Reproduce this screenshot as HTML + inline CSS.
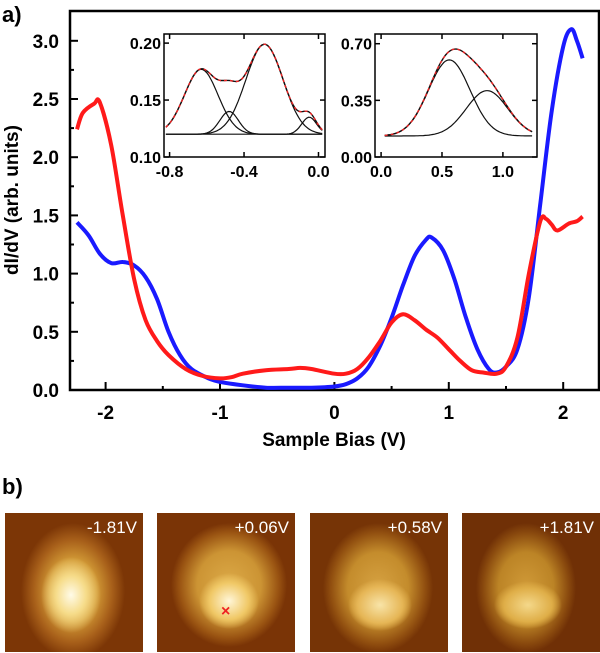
<!DOCTYPE html>
<html><head><meta charset="utf-8"><style>
body{margin:0;background:#fff;width:600px;height:653px;overflow:hidden;font-family:"Liberation Sans",sans-serif}
svg text{font-family:"Liberation Sans",sans-serif}
.img{position:absolute;top:513px;width:138px;height:139px;overflow:hidden}
.lbl{position:absolute;right:6px;top:5px;color:#fff;font-size:17px;font-family:"Liberation Sans",sans-serif}
</style></head><body>
<svg id="chart" width="600" height="470" style="position:absolute;left:0;top:0">
<text x="2" y="22" font-size="22" font-weight="bold">a)</text>
<g id="main"></g>
</svg>
<div style="position:absolute;left:2px;top:474px;font-size:22px;font-weight:bold">b)</div>
<div class="img" style="left:5px;background:radial-gradient(ellipse 30px 38px at 66px 82px,#fffbe8 0%,#f6dc8a 50%,transparent 100%),radial-gradient(ellipse 52px 68px at 68px 78px,#e9bb58 0%,#d29a36 45%,#a8601a 75%,#7c3606 100%)"><span class="lbl">-1.81V</span></div>
<div class="img" style="left:157px;background:radial-gradient(ellipse 30px 28px at 72px 88px,#fff6d8 0%,#f0c866 65%,transparent 100%),radial-gradient(ellipse 58px 62px at 72px 72px,#dcaa48 0%,#cc9434 55%,#9a5412 85%,#7a3406 100%)"><span class="lbl">+0.06V</span><span style="position:absolute;left:64px;top:90px;color:#e22;font-weight:bold;font-size:16px">×</span></div>
<div class="img" style="left:310px;background:radial-gradient(ellipse 32px 26px at 70px 92px,#f8e4a8 0%,#e6b656 70%,transparent 100%),radial-gradient(ellipse 55px 65px at 68px 75px,#d6a242 0%,#c48c2c 55%,#925010 85%,#763406 100%)"><span class="lbl">+0.58V</span></div>
<div class="img" style="left:462px;background:radial-gradient(ellipse 34px 24px at 66px 92px,#f4d88a 0%,#dfae48 70%,transparent 100%),radial-gradient(ellipse 50px 65px at 64px 75px,#d09a38 0%,#bc8426 55%,#8a4a0e 85%,#703006 100%)"><span class="lbl">+1.81V</span></div>
<script>
const blueX=[-2.25,-2.15,-2.05,-1.95,-1.85,-1.75,-1.65,-1.55,-1.45,-1.35,-1.25,-1.1,-1.0,-0.8,-0.6,-0.4,-0.2,0,0.1,0.2,0.3,0.4,0.5,0.6,0.7,0.8,0.85,0.95,1.05,1.15,1.25,1.35,1.42,1.5,1.6,1.7,1.8,1.9,2.0,2.07,2.12,2.17];
const blueY=[1.44,1.33,1.17,1.09,1.10,1.07,0.97,0.78,0.50,0.30,0.18,0.10,0.07,0.04,0.02,0.02,0.02,0.03,0.05,0.10,0.20,0.38,0.62,0.90,1.15,1.29,1.31,1.20,0.95,0.62,0.35,0.18,0.15,0.20,0.35,0.80,1.60,2.40,2.95,3.10,3.00,2.85];
const redX=[-2.25,-2.2,-2.1,-2.05,-1.95,-1.85,-1.75,-1.65,-1.55,-1.45,-1.3,-1.15,-1.0,-0.9,-0.8,-0.6,-0.4,-0.3,-0.2,0,0.1,0.2,0.3,0.4,0.5,0.6,0.7,0.8,0.9,1.0,1.1,1.2,1.3,1.42,1.5,1.6,1.7,1.8,1.85,1.9,1.95,2.05,2.12,2.17];
const redY=[2.24,2.38,2.46,2.47,2.10,1.50,0.95,0.60,0.42,0.30,0.18,0.12,0.10,0.11,0.14,0.17,0.18,0.19,0.18,0.14,0.14,0.18,0.28,0.42,0.58,0.65,0.60,0.52,0.45,0.35,0.25,0.17,0.15,0.14,0.20,0.45,1.00,1.45,1.47,1.42,1.37,1.43,1.45,1.49];
const xTicks=[-2,-1,0,1,2];
const yTicks=[0,0.5,1.0,1.5,2.0,2.5,3.0];
const in1Base=0.12, in1Centers=[-0.63,-0.48,-0.29,-0.05], in1Amps=[0.057,0.02,0.079,0.015], in1Sig=[0.09,0.05,0.1,0.04];
const in2Base=0.13, in2Centers=[0.56,0.87], in2Amps=[0.47,0.28], in2Sig=[0.17,0.17];
const in1XT=[-0.8,-0.4,0.0], in1YT=[0.10,0.15,0.20];
const in2XT=[0.0,0.5,1.0], in2YT=[0.00,0.35,0.70];

const NS="http://www.w3.org/2000/svg";
const g=document.getElementById('main');
function el(t,a,p){const e=document.createElementNS(NS,t);for(const k in a)e.setAttribute(k,a[k]);(p||g).appendChild(e);return e;}
function txt(x,y,s,size,anchor,p){const e=el('text',{x:x,y:y,'font-size':size,'font-weight':'bold','text-anchor':anchor},p);e.textContent=s;return e;}
const L=70,R=599,T=11,B=390;
const sx=v=>334.4+v*114.4, sy=v=>390-v*116.4;
el('rect',{x:L,y:T,width:R-L,height:B-T,fill:'none',stroke:'#000','stroke-width':2.5});
xTicks.forEach(v=>{el('line',{x1:sx(v),x2:sx(v),y1:B,y2:B-8,stroke:'#000','stroke-width':2});
 const t=txt(sx(v),419,String(v),19,'middle');});
[-1.5,-0.5,0.5,1.5].forEach(v=>el('line',{x1:sx(v),x2:sx(v),y1:B,y2:B-4,stroke:'#000','stroke-width':2}));
yTicks.forEach(v=>{el('line',{x1:L,x2:L+8,y1:sy(v),y2:sy(v),stroke:'#000','stroke-width':2});
 const t=txt(L-11,sy(v)+7,v.toFixed(1),19,'end');});
[0.25,0.75,1.25,1.75,2.25,2.75].forEach(v=>el('line',{x1:L,x2:L+4,y1:sy(v),y2:sy(v),stroke:'#000','stroke-width':2}));
let xt=txt(334,446,'Sample Bias (V)',19,'middle');
let yt=txt(0,0,'dI/dV (arb. units)',19,'middle');yt.setAttribute('transform','translate(18,200) rotate(-90)');
function path(xs,ys,fx,fy){return xs.map((x,i)=>(i?'L':'M')+fx(x).toFixed(1)+','+fy(ys[i]).toFixed(1)).join('');}
function smooth(xs,ys,fx,fy){const P=xs.map((x,i)=>[fx(x),fy(ys[i])]);let d='M'+P[0][0].toFixed(1)+','+P[0][1].toFixed(1);
 for(let i=0;i<P.length-1;i++){const p0=P[i-1]||P[i],p1=P[i],p2=P[i+1],p3=P[i+2]||P[i+1];
  const c1=[p1[0]+(p2[0]-p0[0])/6,p1[1]+(p2[1]-p0[1])/6],c2=[p2[0]-(p3[0]-p1[0])/6,p2[1]-(p3[1]-p1[1])/6];
  d+='C'+c1.map(v=>v.toFixed(1))+' '+c2.map(v=>v.toFixed(1))+' '+p2.map(v=>v.toFixed(1));}
 return d;}
let pb=el('path',{d:smooth(blueX,blueY,sx,sy),fill:'none',stroke:'#1a1aff','stroke-width':4,'stroke-linejoin':'round'});

let pr=el('path',{d:smooth(redX,redY,sx,sy),fill:'none',stroke:'#ff1a1a','stroke-width':4,'stroke-linejoin':'round'});


function inset(name,x0,x1,y0,y1,xmin,xmax,ymin,ymax,base,cs,as,ss,xts,yts,fitMin,fitMax){
 const ig=el('g',{});
 const fx=v=>x0+(v-xmin)/(xmax-xmin)*(x1-x0), fy=v=>y1-(v-ymin)/(ymax-ymin)*(y1-y0);
 el('rect',{x:x0,y:y0,width:x1-x0,height:y1-y0,fill:'#fff',stroke:'#000','stroke-width':1.5},ig);
 xts.forEach(v=>{el('line',{x1:fx(v),x2:fx(v),y1:y1,y2:y1-5,stroke:'#000','stroke-width':1.5},ig);el('line',{x1:fx(v),x2:fx(v),y1:y0,y2:y0+5,stroke:'#000','stroke-width':1.5},ig);txt(fx(v),y1+20,v.toFixed(1),16,'middle',ig);});
 yts.forEach(v=>{el('line',{x1:x0,x2:x0+5,y1:fy(v),y2:fy(v),stroke:'#000','stroke-width':1.5},ig);el('line',{x1:x1,x2:x1-5,y1:fy(v),y2:fy(v),stroke:'#000','stroke-width':1.5},ig);txt(x0-3,fy(v)+6,v.toFixed(2),16,'end',ig);});
 const N=80,xs=[];for(let i=0;i<=N;i++)xs.push(fitMin+(fitMax-fitMin)*i/N);
 cs.forEach((c,k)=>{const ys=xs.map(x=>base+as[k]*Math.exp(-((x-c)**2)/(2*ss[k]**2)));
  const p=el('path',{d:path(xs,ys,fx,fy),fill:'none',stroke:'#111','stroke-width':1.2},ig);});
 const sum=xs.map(x=>base+cs.reduce((s,c,k)=>s+as[k]*Math.exp(-((x-c)**2)/(2*ss[k]**2)),0));
 el('path',{d:path(xs,sum,fx,fy),fill:'none',stroke:'#111','stroke-width':1.4},ig);
 const e=el('path',{d:path(xs,sum,fx,fy),fill:'none',stroke:'#e22','stroke-width':1.4,'stroke-dasharray':'3,3'},ig);
 
}
inset('inset-occupied-fit',164,325,34,157,-0.83,0.035,0.10,0.208,in1Base,in1Centers,in1Amps,in1Sig,in1XT,in1YT,-0.82,0.02);
inset('inset-unoccupied-fit',375,537,34,157,-0.05,1.28,0,0.76,in2Base,in2Centers,in2Amps,in2Sig,in2XT,in2YT,0.03,1.24);
</script>
</body></html>
